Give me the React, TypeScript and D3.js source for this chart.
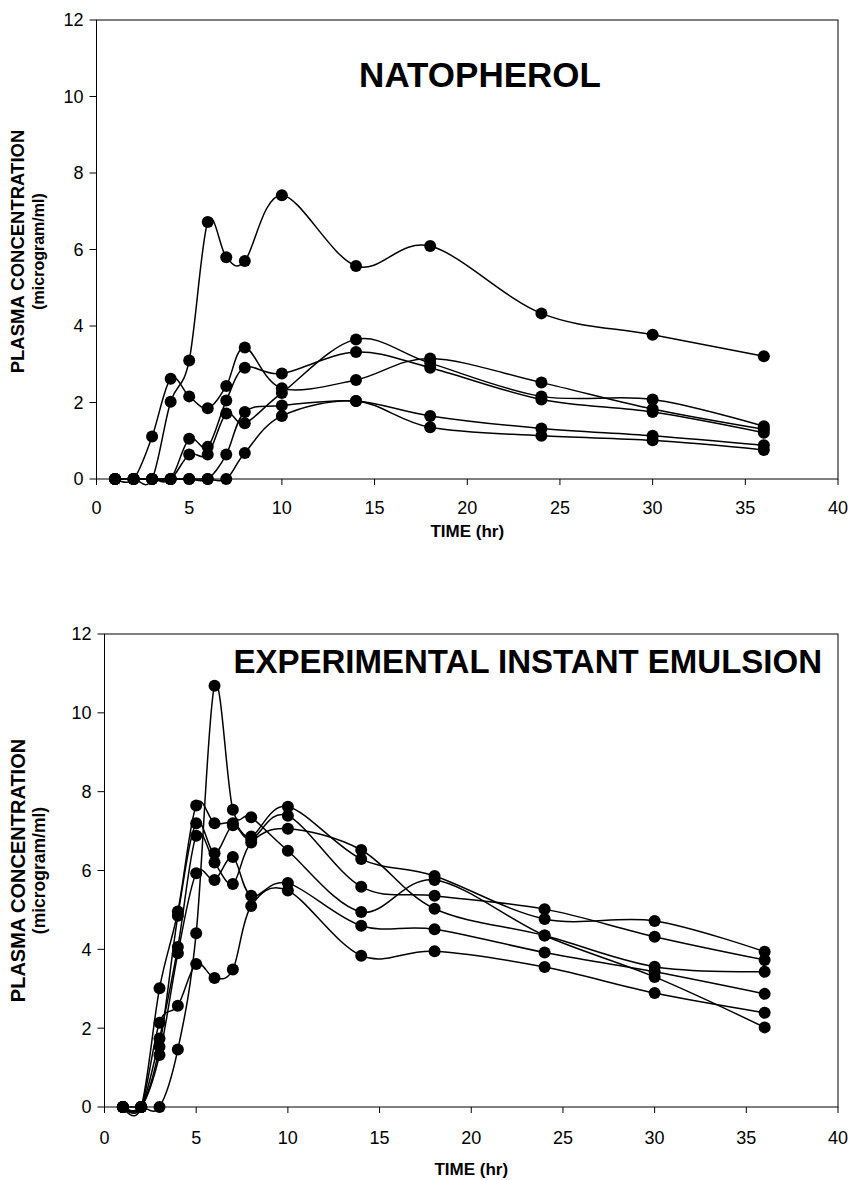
import React from "react";
import * as d3 from "d3";

// sampling times (hr), same for both panels
const times = [1, 2, 3, 4, 5, 6, 7, 8, 10, 14, 18, 24, 30, 36];
const xTicks = [0, 5, 10, 15, 20, 25, 30, 35, 40];
const yTicks = [0, 2, 4, 6, 8, 10, 12];

// NATOPHEROL - one row per subject
const natoS1 = [0, 0, 0, 2.02, 3.1, 6.72, 5.8, 5.7, 7.42, 5.57, 6.09, 4.33, 3.77, 3.21];
const natoS2 = [0, 0, 1.11, 2.62, 2.16, 1.85, 2.43, 3.44, 2.37, 2.59, 3.15, 2.52, 1.83, 1.3];
const natoS3 = [0, 0, 0, 0, 1.05, 0.84, 2.05, 2.91, 2.76, 3.32, 2.91, 2.08, 1.75, 1.21];
const natoS4 = [0, 0, 0, 0, 0.64, 0.64, 1.71, 1.46, 2.25, 3.65, 3.03, 2.16, 2.08, 1.38];
const natoS5 = [0, 0, 0, 0, 0, 0, 0.64, 1.75, 1.92, 2.04, 1.65, 1.32, 1.13, 0.88];
const natoS6 = [0, 0, 0, 0, 0, 0, 0, 0.68, 1.65, 2.04, 1.35, 1.13, 1.01, 0.76];

// EXPERIMENTAL INSTANT EMULSION
const emulS1 = [0, 0, 1.53, 4.85, 7.2, 6.44, 7.15, 6.86, 7.62, 6.29, 5.86, 4.77, 4.72, 3.94];
const emulS2 = [0, 0, 3.01, 4.96, 7.65, 7.2, 7.2, 6.8, 7.39, 5.59, 5.36, 5.02, 4.32, 3.73];
const emulS3 = [0, 0, 1.74, 4.06, 6.88, 6.2, 5.66, 6.71, 7.06, 6.52, 5.03, 4.35, 3.56, 3.43];
const emulS4 = [0, 0, 1.32, 3.9, 5.93, 5.76, 6.34, 5.36, 5.68, 4.6, 4.51, 3.92, 3.43, 2.87];
const emulS5 = [0, 0, 0, 1.46, 4.41, 10.69, 7.54, 7.35, 6.5, 4.95, 5.76, 4.35, 3.3, 2.02];
const emulS6 = [0, 0, 2.14, 2.57, 3.63, 3.27, 3.49, 5.1, 5.49, 3.84, 3.95, 3.55, 2.89, 2.39];

const natopherol = [natoS1, natoS2, natoS3, natoS4, natoS5, natoS6];
const emulsion = [emulS1, emulS2, emulS3, emulS4, emulS5, emulS6];

const font = "Arial, 'Liberation Sans', sans-serif";

function Panel({ series, box, title }) {
  const x = d3.scaleLinear().domain([0, 40]).range([box.left, box.right]);
  const y = d3.scaleLinear().domain([0, 12]).range([box.bottom, box.top]);

  const line = d3
    .line()
    .x((d) => x(d[0]))
    .y((d) => y(d[1]))
    .curve(d3.curveCardinal.tension(0));

  const midY = (box.top + box.bottom) / 2 + box.labelShift;

  return (
    <g>
      {/* frame */}
      <rect
        x={box.left}
        y={box.top}
        width={box.right - box.left}
        height={box.bottom - box.top}
        fill="none"
        stroke="black"
        strokeWidth={1}
      />

      {yTicks.map((t) => (
        <g key={"y" + t}>
          <line x1={box.left - 7} x2={box.left} y1={y(t)} y2={y(t)} stroke="black" />
          <text
            x={box.left - 13}
            y={y(t)}
            dy="0.36em"
            textAnchor="end"
            fontSize={18}
            fontFamily={font}
          >
            {t}
          </text>
        </g>
      ))}

      {xTicks.map((t) => (
        <g key={"x" + t}>
          <line x1={x(t)} x2={x(t)} y1={box.bottom} y2={box.bottom + 6} stroke="black" />
          <text
            x={x(t)}
            y={box.bottom + box.tickGap}
            textAnchor="middle"
            fontSize={18}
            fontFamily={font}
          >
            {t}
          </text>
        </g>
      ))}

      <text
        x={(box.left + box.right) / 2}
        y={box.bottom + box.titleGap}
        textAnchor="middle"
        fontSize={17}
        fontWeight="bold"
        fontFamily={font}
      >
        TIME (hr)
      </text>

      <text
        transform={`translate(${box.labelX},${midY}) rotate(-90)`}
        textAnchor="middle"
        fontSize={box.labelSize}
        fontWeight="bold"
        fontFamily={font}
      >
        PLASMA CONCENTRATION
      </text>
      <text
        transform={`translate(${box.labelX + 20},${midY}) rotate(-90)`}
        textAnchor="middle"
        fontSize={box.labelSize - 2.5}
        fontWeight="bold"
        fontFamily={font}
      >
        (microgram/ml)
      </text>

      <text
        x={title.x}
        y={title.y}
        textAnchor={title.anchor}
        fontSize={title.size}
        fontWeight="bold"
        fontFamily={font}
      >
        {title.text}
      </text>

      {series.map((vals, i) => {
        const pts = times.map((t, j) => [t, vals[j]]);
        return (
          <g key={i}>
            <path d={line(pts)} fill="none" stroke="black" strokeWidth={1.5} />
            {pts.map((p, j) => (
              <circle key={j} cx={x(p[0])} cy={y(p[1])} r={6} fill="black" />
            ))}
          </g>
        );
      })}
    </g>
  );
}

export default function App() {
  return (
    <svg
      width={858}
      height={1180}
      style={{ position: "absolute", left: 0, top: 0, background: "white" }}
    >
      <rect width={858} height={1180} fill="white" />
      <Panel
        series={natopherol}
        box={{
          left: 96.5, right: 838, top: 20, bottom: 479,
          tickGap: 35, titleGap: 58,
          labelX: 23.5, labelSize: 18.5, labelShift: 2,
        }}
        title={{ text: "NATOPHEROL", x: 480, y: 87, anchor: "middle", size: 35 }}
      />
      <Panel
        series={emulsion}
        box={{
          left: 104.5, right: 838, top: 634, bottom: 1107,
          tickGap: 37, titleGap: 68,
          labelX: 25, labelSize: 20, labelShift: 0,
        }}
        title={{ text: "EXPERIMENTAL INSTANT EMULSION", x: 822, y: 673, anchor: "end", size: 33 }}
      />
    </svg>
  );
}
